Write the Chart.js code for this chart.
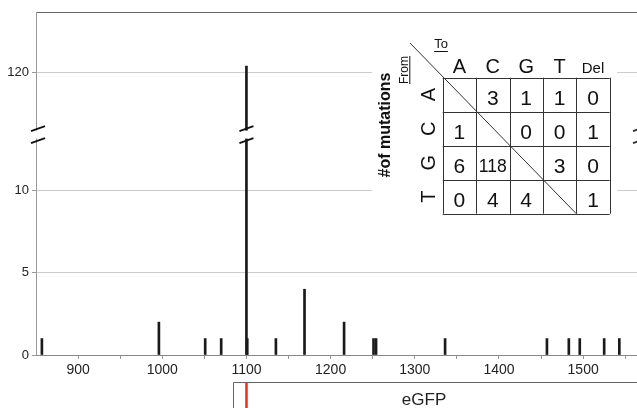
<!DOCTYPE html>
<html>
<head>
<meta charset="utf-8">
<script src="https://cdn.jsdelivr.net/npm/chart.js@4.4.1/dist/chart.umd.min.js"></script>
<style>
  html, body { margin: 0; padding: 0; background: #fff; }
  #wrap { position: relative; width: 637px; height: 408px; }
</style>
</head>
<body>
<div id="wrap"><canvas id="mutChart"></canvas></div>
<script>
// mutation positions along the construct and the number of mutations seen there
const positions = [857, 996, 1051, 1070, 1100, 1101, 1135, 1169, 1216, 1251, 1254, 1336, 1457, 1483, 1496, 1525, 1543];
const counts    = [1,   2,   1,    1,    122,  1,    1,    4,    2,    1,    1,    1,    1,    1,    1,    1,    1];

const xTicks = [900, 950, 1000, 1050, 1100, 1150, 1200, 1250, 1300, 1350, 1400, 1450, 1500, 1550];
const yTicks = [0, 5, 10, 120];

// substitution table (From row -> To column)
const fromBases = ['A', 'C', 'G', 'T'];
const toBases   = ['A', 'C', 'G', 'T', 'Del'];
const subCounts = [
  [null, 3,    1,    1,    0],
  [1,    null, 0,    0,    1],
  [6,    118,  null, 3,    0],
  [0,    4,    4,    null, 1]
];

const FONT = "'Liberation Sans', Arial, Helvetica, sans-serif";

// broken y axis: 0-10 linear, 10-120 squeezed, above 120 compressed
function squash(v) {
  if (v <= 10) return v;
  if (v <= 120) return 10 + (v - 10) * 7.2 / 110;
  return 17.2 + (v - 120) * 0.183;
}
const Y_TOP = 140;
const BREAK_VALUE = 62;

class BrokenLinearScale extends Chart.LinearScale {
  determineDataLimits() {
    this.min = 0;
    this.max = squash(Y_TOP);
  }
  buildTicks() {
    return yTicks.map(v => ({ value: v }));
  }
  getPixelForValue(v) {
    return super.getPixelForValue(squash(v));
  }
}
BrokenLinearScale.id = 'brokenLinear';
BrokenLinearScale.defaults = Chart.LinearScale.defaults;
Chart.register(BrokenLinearScale);

function drawBreak(ctx, cx, cy, color) {
  ctx.strokeStyle = color;
  ctx.lineWidth = 1.8;
  [-6, 6].forEach(d => {
    ctx.beginPath();
    ctx.moveTo(cx - 7, cy + d + 2.5);
    ctx.lineTo(cx + 7, cy + d - 2.5);
    ctx.stroke();
  });
}

const extras = {
  id: 'figureExtras',
  beforeDraw(chart) {
    const ctx = chart.ctx;
    ctx.save();
    ctx.fillStyle = '#fff';
    ctx.fillRect(0, 0, chart.width, chart.height);
    ctx.restore();
  },
  afterDraw(chart) {
    const ctx = chart.ctx;
    const xs = chart.scales.x, ys = chart.scales.y;
    const area = chart.chartArea;
    ctx.save();

    // axis break marks
    const by = ys.getPixelForValue(BREAK_VALUE);
    const bx = xs.getPixelForValue(1100);
    ctx.fillStyle = '#fff';
    ctx.fillRect(bx - 3, by - 4, 6, 8);
    ctx.fillRect(area.left - 2, by - 4, 4, 8);
    drawBreak(ctx, bx, by, '#111');
    drawBreak(ctx, area.left + 2, by, '#111');
    drawBreak(ctx, area.right + 3, by, '#333');

    // table background hides grid lines
    ctx.fillStyle = '#fff';
    ctx.fillRect(372, 32, 245, 192);

    // y axis title
    ctx.fillStyle = '#111';
    ctx.font = 'bold 16px ' + FONT;
    ctx.save();
    ctx.translate(390, 125);
    ctx.rotate(-Math.PI / 2);
    ctx.textAlign = 'center';
    ctx.textBaseline = 'alphabetic';
    ctx.fillText('#of mutations', 0, 0);
    ctx.restore();

    // From / To labels
    ctx.font = '12px ' + FONT;
    ctx.save();
    ctx.translate(407.5, 70);
    ctx.rotate(-Math.PI / 2);
    ctx.textAlign = 'center';
    ctx.fillText('From', 0, 0);
    let w = ctx.measureText('From').width;
    ctx.fillRect(-w / 2, 1.8, w, 1);
    ctx.restore();

    ctx.font = '13px ' + FONT;
    ctx.textAlign = 'center';
    ctx.fillText('To', 441, 47.5);
    w = ctx.measureText('To').width;
    ctx.fillRect(441 - w / 2, 51, w, 1);

    // grid of the table
    const tl = 442.7, tt = 77.7, cw = 33.4, rh = 34;
    ctx.strokeStyle = '#333';
    ctx.lineWidth = 1;
    ctx.beginPath();
    for (let c = 0; c <= toBases.length; c++) {
      const px = Math.round(tl + c * cw) + 0.5;
      ctx.moveTo(px, tt);
      ctx.lineTo(px, tt + fromBases.length * rh);
    }
    for (let r = 0; r <= fromBases.length; r++) {
      const py = Math.round(tt + r * rh) + 0.5;
      ctx.moveTo(tl, py);
      ctx.lineTo(tl + toBases.length * cw, py);
    }
    ctx.stroke();
    ctx.beginPath();
    ctx.moveTo(410, 43);
    ctx.lineTo(tl + 4 * cw, tt + 4 * rh);
    ctx.stroke();

    // column headers
    ctx.fillStyle = '#111';
    ctx.textAlign = 'center';
    ctx.textBaseline = 'alphabetic';
    toBases.forEach((b, c) => {
      ctx.font = (b === 'Del' ? '15px ' : '20px ') + FONT;
      ctx.fillText(b, tl + (c + 0.5) * cw, 73);
    });

    // row headers (rotated)
    ctx.font = '20px ' + FONT;
    fromBases.forEach((b, r) => {
      ctx.save();
      ctx.translate(429, tt + (r + 0.5) * rh);
      ctx.rotate(-Math.PI / 2);
      ctx.textBaseline = 'middle';
      ctx.fillText(b, 0, 0);
      ctx.restore();
    });

    // cell values
    subCounts.forEach((row, r) => {
      row.forEach((v, c) => {
        if (v === null) return;
        const s = String(v);
        const cx = tl + (c + 0.5) * cw, cy = tt + r * rh + 27;
        if (s.length > 2) {
          ctx.font = '18px ' + FONT;
          ctx.fillText(s, cx, cy - 1, 28);
        } else {
          ctx.font = '21px ' + FONT;
          ctx.fillText(s, cx, cy);
        }
      });
    });

    // eGFP feature box
    const gx = xs.getPixelForValue(1084);
    ctx.strokeStyle = '#666';
    ctx.beginPath();
    ctx.moveTo(Math.round(gx) + 0.5, chart.height);
    ctx.lineTo(Math.round(gx) + 0.5, 382.5);
    ctx.lineTo(chart.width, 382.5);
    ctx.stroke();
    ctx.fillStyle = '#e8301c';
    ctx.fillRect(bx - 1.2, 383, 2.5, chart.height - 383);
    ctx.fillStyle = '#222';
    ctx.font = '17px ' + FONT;
    ctx.textAlign = 'center';
    ctx.fillText('eGFP', xs.getPixelForValue(1311), 405);

    ctx.restore();
  }
};

const data = {
  datasets: [{
    data: positions.map((p, i) => ({ x: p, y: counts[i] })),
    backgroundColor: '#1a1a1a',
    barThickness: 2,
    grouped: false
  }]
};

const config = {
  type: 'bar',
  data: data,
  options: {
    responsive: true,
    maintainAspectRatio: false,
    animation: false,
    layout: { padding: { top: 12, left: 0, right: 0, bottom: 0 } },
    plugins: {
      legend: { display: false },
      tooltip: { enabled: false }
    },
    scales: {
      x: {
        type: 'linear',
        position: 'bottom',
        min: 850,
        max: 1564,
        offset: false,
        afterBuildTicks: s => { s.ticks = xTicks.map(v => ({ value: v })); },
        afterFit: s => { s.height = 53; },
        grid: { drawOnChartArea: false, offset: false, tickLength: 4, color: '#999' },
        border: { color: '#888' },
        ticks: {
          autoSkip: false,
          maxRotation: 0,
          padding: 3,
          color: '#222',
          font: { family: FONT, size: 14 },
          callback: v => (v % 100 === 0 ? String(v) : '')
        }
      },
      xTop: {
        type: 'linear',
        position: 'top',
        min: 850,
        max: 1564,
        afterFit: s => { s.height = 0; },
        grid: { display: false },
        ticks: { display: false },
        border: { color: '#666' }
      },
      y: {
        type: 'brokenLinear',
        position: 'left',
        afterFit: s => { s.width = 36; },
        grid: { color: '#cccccc', tickLength: 4, tickColor: '#999' },
        border: { color: '#999' },
        ticks: {
          padding: 3,
          color: '#222',
          font: { family: FONT, size: 13 },
          callback: v => String(v)
        }
      }
    }
  },
  plugins: [extras]
};

const mutChart = new Chart(document.getElementById('mutChart'), config);
</script>
</body>
</html>
